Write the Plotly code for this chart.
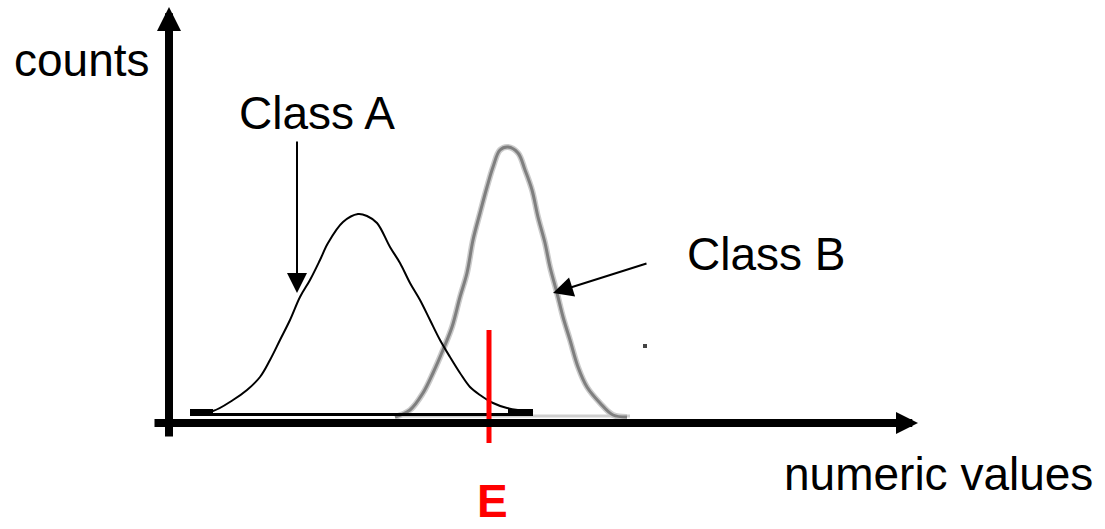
import plotly.graph_objects as go

# Class A histogram outline (numeric value, count)
class_a_x = [21, 44, 64, 78, 91, 101, 111, 121, 131, 141, 151, 159, 174, 189,
             198, 208, 221, 231, 241, 251, 261, 271, 281, 291, 301, 311, 324, 338, 364]
class_a_y = [10, 12, 23, 33, 46, 63, 83, 103, 126, 143, 163, 180, 201, 209,
             207, 200, 176, 160, 140, 123, 103, 83, 66, 50, 36, 28, 20, 15, 11]

# Class B histogram outline (numeric value, count)
class_b_x = [226, 241, 254, 264, 274, 283, 291, 298, 304, 311, 318, 324, 331, 339,
             349, 356, 363, 369, 376, 381, 388, 394, 401, 409, 418, 431, 444, 458]
class_b_y = [6, 13, 30, 50, 73, 96, 126, 150, 183, 210, 236, 256, 273, 276,
             270, 253, 233, 206, 180, 156, 130, 106, 83, 56, 36, 20, 8, 6]

# Baselines under each class
base_a_x = [21, 364]
base_a_y = [8.5, 8.5]
tail_a_left_x = [21, 44]
tail_a_right_x = [339, 364]
tail_a_y = [10.5, 10.5]
base_b_x = [231, 461]
base_b_y = [7, 7]

# Decision threshold E
threshold_x = [320, 320]
threshold_y = [-20, 93]

# Stray point
speck_x = [476]
speck_y = [77]

FONT = "Liberation Sans, Arial, sans-serif"

fig = go.Figure()

fig.add_trace(go.Scatter(x=base_b_x, y=base_b_y, mode="lines",
                         line=dict(color="#cfcfcf", width=3)))
fig.add_trace(go.Scatter(x=class_b_x, y=class_b_y, mode="lines", line_shape="spline",
                         line=dict(color="#cbcbcb", width=6)))
fig.add_trace(go.Scatter(x=class_b_x, y=class_b_y, mode="lines", line_shape="spline",
                         line=dict(color="#7f7f7f", width=3)))
fig.add_trace(go.Scatter(x=base_a_x, y=base_a_y, mode="lines",
                         line=dict(color="black", width=3)))
fig.add_trace(go.Scatter(x=tail_a_left_x, y=tail_a_y, mode="lines",
                         line=dict(color="black", width=7)))
fig.add_trace(go.Scatter(x=tail_a_right_x, y=tail_a_y, mode="lines",
                         line=dict(color="black", width=7)))
fig.add_trace(go.Scatter(x=class_a_x, y=class_a_y, mode="lines", line_shape="spline",
                         line=dict(color="black", width=2)))
fig.add_trace(go.Scatter(x=threshold_x, y=threshold_y, mode="lines",
                         line=dict(color="#ff0000", width=5)))
fig.add_trace(go.Scatter(x=speck_x, y=speck_y, mode="markers",
                         marker=dict(symbol="square", size=4, color="#444444")))


def arrow(tip, tail, width, size):
    fig.add_annotation(x=tip[0], y=tip[1], ax=tail[0], ay=tail[1],
                       xref="x", yref="y", axref="x", ayref="y",
                       text="", showarrow=True, arrowhead=2,
                       arrowwidth=width, arrowsize=size, arrowcolor="black")


# Axes drawn as thick arrows
arrow((0, 416), (0, -15), 8, 0.6)
arrow((749, 0), (-16, 0), 8, 0.55)

# Pointers from labels to curves
arrow((128, 130), (128, 283), 2, 2)
arrow((384, 130), (479, 160), 2, 2)


def label(text, x, y, color="black", bold=False):
    fig.add_annotation(x=x, y=y, xref="x", yref="y", text=f"<b>{text}</b>" if bold else text,
                       showarrow=False, xanchor="center", yanchor="middle",
                       font=dict(family=FONT, size=46, color=color))


label("counts", -87, 363)
label("Class A", 148, 310)
label("Class B", 597, 169)
label("numeric values", 769, -51)
label("E", 323, -78, color="#ff0000", bold=True)

fig.update_layout(
    width=1105, height=529,
    margin=dict(l=0, r=0, t=0, b=0),
    paper_bgcolor="white", plot_bgcolor="white",
    showlegend=False,
    xaxis=dict(range=[-169, 936], visible=False, fixedrange=True),
    yaxis=dict(range=[-106, 423], visible=False, fixedrange=True),
)

fig.write_html("out.html")
